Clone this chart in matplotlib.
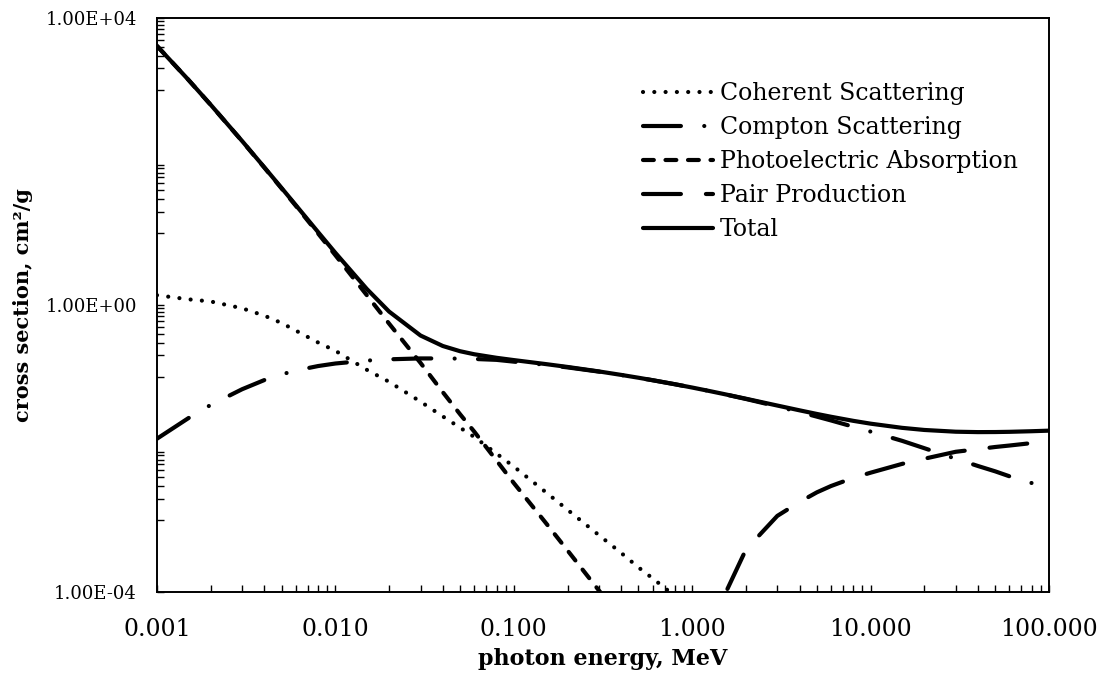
import numpy as np
import matplotlib
matplotlib.use("Agg")
import matplotlib.pyplot as plt
from matplotlib.ticker import FixedLocator, FixedFormatter, LogLocator, NullFormatter

# photon energy grid, MeV
energy = [0.001, 0.0015, 0.002, 0.003, 0.004, 0.005, 0.006, 0.008, 0.01, 0.015,
          0.02, 0.03, 0.04, 0.05, 0.06, 0.08, 0.1, 0.15, 0.2, 0.3,
          0.4, 0.5, 0.6, 0.8, 1.0, 1.25, 1.5, 2.0, 3.0, 4.0,
          5.0, 6.0, 8.0, 10.0, 15.0, 20.0, 30.0, 40.0, 50.0, 60.0,
          80.0, 100.0]

nan = np.nan

# cross sections, cm2/g
coherent = [1.37, 1.20, 1.12, 0.90, 0.71, 0.56, 0.44, 0.30, 0.23, 0.125,
            0.085, 0.045, 0.028, 0.0195, 0.0145, 0.0085, 0.0056, 0.0025, 0.0014, 6.2e-4,
            3.5e-4, 2.2e-4, 1.55e-4, 8.8e-5, 5.7e-5, 3.7e-5, 2.6e-5, 1.5e-5, 6.6e-6, 3.7e-6,
            2.4e-6, 1.7e-6, 9.5e-7, 6.0e-7, 2.7e-7, 1.5e-7, 6.7e-8, 3.8e-8, 2.4e-8, 1.7e-8,
            9.5e-9, 6.0e-9]

compton = [0.0137, 0.0265, 0.0405, 0.067, 0.090, 0.108, 0.122, 0.141, 0.153, 0.168,
           0.175, 0.180, 0.180, 0.179, 0.177, 0.172, 0.1624, 0.147, 0.135, 0.1179,
           0.1057, 0.0966, 0.0894, 0.0786, 0.0707, 0.0632, 0.0574, 0.0490, 0.0386, 0.0322,
           0.0278, 0.0246, 0.0201, 0.0172, 0.0128, 0.0101, 0.0072, 0.0057, 0.0048, 0.0041,
           0.0033, 0.0027]

photoelectric = [4076, 1374, 616, 192, 81.9, 41.9, 24.1, 9.92, 4.94, 1.37,
                 0.55, 0.156, 0.061, 0.030, 0.0172, 0.0068, 0.0033, 9.4e-4, 3.8e-4, 1.05e-4,
                 4.3e-5, 2.2e-5, 1.4e-5, 8.0e-6, 5.5e-6, nan, nan, nan, nan, nan,
                 nan, nan, nan, nan, nan, nan, nan, nan, nan, nan,
                 nan, nan]

pair = [nan, nan, nan, nan, nan, nan, nan, nan, nan, nan,
        nan, nan, nan, nan, nan, nan, nan, nan, nan, nan,
        nan, nan, nan, nan, nan, 1.6e-5, 8.5e-5, 3.9e-4, 1.15e-3, 1.8e-3,
        2.45e-3, 3.0e-3, 3.9e-3, 4.6e-3, 6.1e-3, 7.2e-3, 9.0e-3, 9.8e-3, 0.0105, 0.0110,
        0.0119, 0.0126]

total = [4078, 1376, 617.3, 192.9, 82.78, 42.58, 24.64, 10.37, 5.329, 1.673,
         0.8096, 0.3756, 0.2683, 0.2269, 0.2059, 0.1837, 0.1707, 0.1505, 0.1370, 0.1186,
         0.1061, 0.09687, 0.08956, 0.07865, 0.07072, 0.06323, 0.05754, 0.04942, 0.03969, 0.03403,
         0.03031, 0.02770, 0.02429, 0.02219, 0.01941, 0.01813, 0.01714, 0.01692, 0.01696, 0.01708,
         0.01741, 0.01773]

x_ticks = [0.001, 0.01, 0.1, 1, 10, 100]
x_labels = ["0.001", "0.010", "0.100", "1.000", "10.000", "100.000"]
y_ticks = [1e-4, 1, 1e4]
y_labels = ["1.00E-04", "1.00E+00", "1.00E+04"]

plt.rcParams["font.family"] = ["DejaVu Serif"]

fig = plt.figure(figsize=(11, 6.79), dpi=100)
ax = fig.add_axes([157 / 1100, 1 - 592 / 679, (1049 - 157) / 1100, (592 - 18) / 679])

lw = 3
common = dict(color="black", lw=lw, dash_capstyle="round", solid_capstyle="round")
ax.plot(energy, coherent, linestyle=(0, (0.01, 2.7)), label="Coherent Scattering", **common)
ax.plot(energy, compton, linestyle=(0, (9.1, 5.6, 0.01, 5.6)), label="Compton Scattering", **common)
ax.plot(energy, photoelectric, linestyle=(0, (2.6, 2.8)), label="Photoelectric Absorption", **common)
ax.plot(energy, pair, linestyle=(0, (9.1, 6.0)), label="Pair Production", **common)
ax.plot(energy, total, linestyle="-", label="Total", **common)

ax.set_xscale("log")
ax.set_yscale("log")
ax.set_xlim(0.001, 100)
ax.set_ylim(1e-4, 1e4)

ax.xaxis.set_major_locator(FixedLocator(x_ticks))
ax.xaxis.set_major_formatter(FixedFormatter(x_labels))
ax.xaxis.set_minor_locator(LogLocator(base=10, subs=np.arange(2, 10), numticks=20))
ax.xaxis.set_minor_formatter(NullFormatter())

y_minor = [k * 10.0 ** n for n in (-3, -1, 1, 3) for k in range(1, 10)]
ax.yaxis.set_major_locator(FixedLocator(y_ticks))
ax.yaxis.set_major_formatter(FixedFormatter(y_labels))
ax.yaxis.set_minor_locator(FixedLocator(y_minor))
ax.yaxis.set_minor_formatter(NullFormatter())

ax.tick_params(axis="both", which="both", direction="in", length=5, width=1,
               top=False, right=False)
ax.tick_params(axis="x", which="major", labelsize=17, pad=19)
ax.tick_params(axis="y", which="major", labelsize=13, pad=14.5)

for spine in ax.spines.values():
    spine.set_linewidth(1.4)

ax.set_xlabel("photon energy, MeV", fontsize=16, fontweight="bold", labelpad=5)
ax.set_ylabel("cross section, cm²/g", fontsize=15, fontweight="bold", labelpad=9)

ax.legend(loc="upper left", bbox_to_anchor=(643 / 1100, 1 - 82 / 679),
          bbox_transform=fig.transFigure, frameon=False, fontsize=17,
          handlelength=2.97, handletextpad=0.3, labelspacing=0.47,
          borderpad=0, borderaxespad=0)

fig.savefig("out.png", dpi=100)
